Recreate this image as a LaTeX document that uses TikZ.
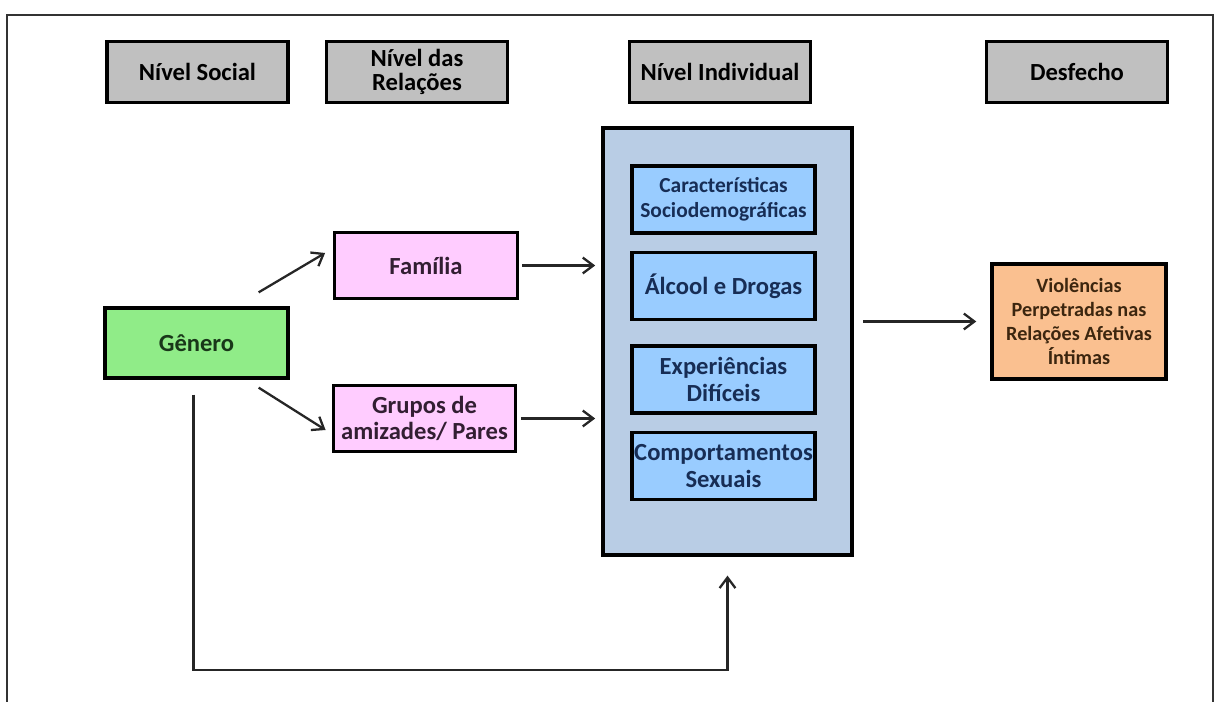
\documentclass[tikz,border=0pt]{standalone}
\usepackage{fontspec}
\setmainfont{Carlito}
\usetikzlibrary{arrows.meta,shapes,positioning,calc}
\definecolor{cinza}{RGB}{192,192,192}
\definecolor{verde}{RGB}{144,236,136}
\definecolor{rosa}{RGB}{255,204,255}
\definecolor{azulclaro}{RGB}{185,205,229}
\definecolor{azul}{RGB}{153,204,255}
\definecolor{laranja}{RGB}{250,192,144}
\definecolor{txtazul}{RGB}{23,45,85}
\definecolor{txtverde}{RGB}{25,55,25}
\definecolor{txtrosa}{RGB}{50,30,50}
\definecolor{txtlaranja}{RGB}{60,38,15}
\tikzset{caixa/.style={draw=black, line width=1.9pt, align=center, inner xsep=1pt,
    font=\fontsize{14}{15}\selectfont\bfseries},
  nivel/.style={caixa, fill=cinza, minimum width=3.62cm, minimum height=1.22cm},
  relacao/.style={caixa, fill=rosa, text=txtrosa, minimum width=3.65cm, minimum height=1.32cm},
  fator/.style={caixa, fill=azul, text=txtazul, minimum width=3.66cm, minimum height=1.34cm},
  seta/.style={-{Straight Barb[length=6pt,width=9pt]}, line width=1.3pt, black!85}}

\begin{document}
\begin{tikzpicture}[x=0.02cm, y=-0.02cm]
\useasboundingbox (0,0) rectangle (1220,702);
\draw[line width=0.8pt, black!80] (7,702) -- (7,15) -- (1213,15) -- (1213,702);

% niveis
\node[nivel] (social) at (197.5,72) {Nível Social};
\node[nivel, font=\fontsize{14}{13.6}\selectfont\bfseries] (relacoes) at (417,72) {Nível das\\Relações};
\node[nivel] (individual) at (720,72) {Nível Individual};
\node[nivel] (desfecho) at (1077,72) {Desfecho};

% nivel social e das relacoes
\node[caixa, fill=verde, text=txtverde, minimum width=3.66cm, minimum height=1.40cm] (genero) at (196.5,343) {Gênero};
\node[relacao] (familia) at (426,265.5) {Família};
\node[relacao] (grupos) at (424.5,418.5) {Grupos de\\amizades/ Pares};

% nivel individual
\node[caixa, fill=azulclaro, minimum width=4.98cm, minimum height=8.54cm] (indiv) at (727.5,341.5) {};
\node[fator, font=\fontsize{12.2}{14}\selectfont\bfseries] (carac) at (723.5,199.5) {Características\\Sociodemográficas};
\node[fator] (alcool) at (723.5,286) {Álcool e Drogas};
\node[fator] (exper) at (723.5,379.5) {Experiências\\Difíceis};
\node[fator] (comport) at (723.5,466) {Comportamentos\\Sexuais};

% desfecho
\node[caixa, fill=laranja, text=txtlaranja, font=\fontsize{11.5}{13.8}\selectfont\bfseries,
  minimum width=3.48cm, minimum height=2.30cm] (violencia) at (1079,321.5)
  {Violências\\Perpetradas nas\\Relações Afetivas\\Íntimas};

\draw[seta] ($(genero.north east)+(-31,-14)$) -- ($(familia.west)+(-8,-12.5)$);
\draw[seta] ($(genero.south east)+(-31,8)$) -- ($(grupos.west)+(-6,11.5)$);
\draw[seta, shorten <=2pt, shorten >=3.5pt] (familia.east) -- (familia.east -| indiv.west);
\draw[seta, shorten <=2pt, shorten >=3.5pt] (grupos.east) -- (grupos.east -| indiv.west);
\draw[seta, shorten <=5.5pt, shorten >=8pt] (violencia.west -| indiv.east) -- (violencia.west);
\draw[seta] ($(genero.south)+(-3,15)$) -- ++(0,275) -| ($(indiv.south)+(0,19)$);
\end{tikzpicture}
\end{document}
